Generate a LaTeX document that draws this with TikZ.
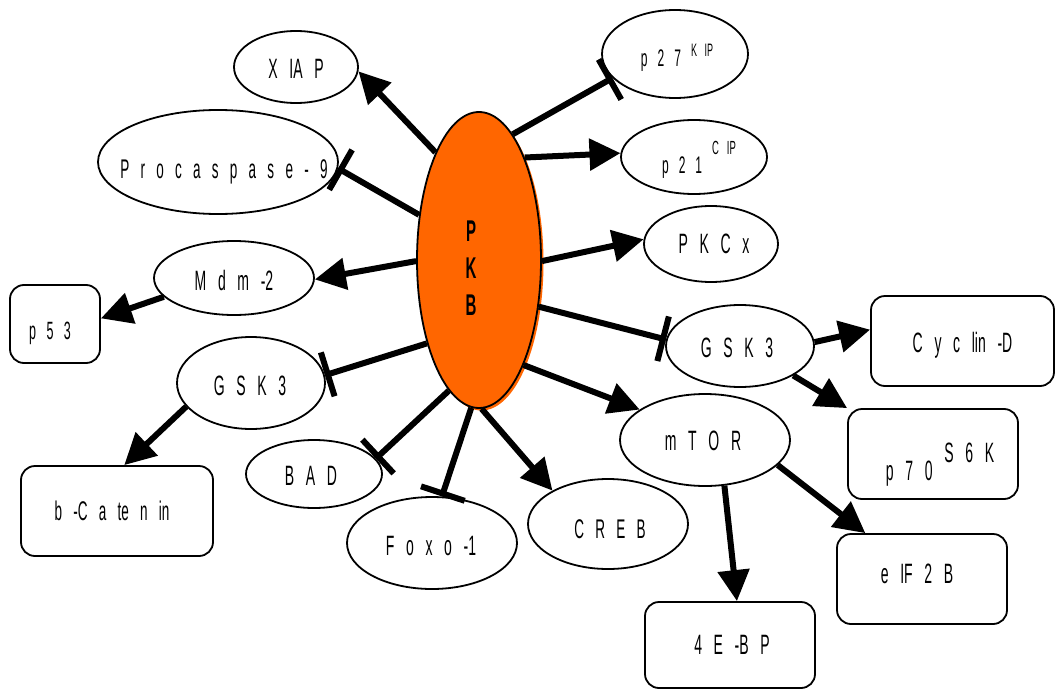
\documentclass[tikz,border=0pt]{standalone}
\usepackage{fontspec}
\setmainfont{Liberation Sans}[FakeStretch=0.5, WordSpace=3]
\usetikzlibrary{arrows.meta,shapes.geometric}
% text placed at offset (dx,dy) px from node centre (dy downwards), zero size
\newcommand{\tx}[3]{\makebox[0pt]{\hspace*{#1pt}\hspace*{#1pt}\raisebox{\dimexpr -10pt - #2pt\relax}[0pt][0pt]{#3}}}
\newcommand{\up}[2]{\raisebox{#1pt}{#2}}
\tikzset{
  ell/.style={ellipse, draw, line width=1.8pt, inner sep=0pt, fill=white},
  rbox/.style={rectangle, rounded corners=14pt, draw, line width=1.8pt, inner sep=0pt, fill=white},
  act/.style={line width=6pt, -{Triangle[length=31pt,width=31pt]}},
  inh/.style={line width=6pt, -{Bar[width=46pt]}},
  lbl/.style={font=\fontsize{28}{30}\selectfont},
}
\begin{document}
\begin{tikzpicture}[x=1pt,y=-1pt]
\useasboundingbox (0,0) rectangle (1056,690);
\fill[white] (0,0) rectangle (1056,690);
% PKB
\fill[fill={rgb,255:red,255;green,102;blue,0}] (481.5,262.5) ellipse [x radius=62pt, y radius=148pt];
\node[ell, fill={rgb,255:red,255;green,102;blue,0}, minimum width=124pt, minimum height=296pt, font=\fontsize{30}{32}\bfseries\selectfont] (pkb) at (479,260)
  {\makebox[0pt]{\hspace*{-16pt}\raisebox{19pt}[0pt][0pt]{P}}\makebox[0pt]{\hspace*{-16pt}\raisebox{-18pt}[0pt][0pt]{K}}\makebox[0pt]{\hspace*{-16pt}\raisebox{-55pt}[0pt][0pt]{B}}};
% targets
\node[ell, lbl, minimum width=124pt, minimum height=72pt] (xiap) at (296,67) {\tx{0}{2}{X IA P}};
\node[ell, minimum width=146pt, minimum height=88pt, font=\fontsize{24}{26}\selectfont] (p27) at (675,54) {\tx{2}{3}{p 2 7 \up{10}{\fontsize{18}{20}\selectfont K IP}}};
\node[ell, minimum width=240pt, minimum height=104pt, font=\fontsize{27}{29}\selectfont] (proc) at (218,162) {\tx{6}{6}{P r o c a s p a s e - 9}};
\node[ell, minimum width=146pt, minimum height=74pt, font=\fontsize{24}{26}\selectfont] (p21) at (694,157) {\tx{5}{6}{p 2 1 \up{18}{\fontsize{19}{20}\selectfont C IP}}};
\node[ell, lbl, minimum width=134pt, minimum height=76pt] (pkcx) at (711,244) {\tx{3}{-1}{P K C x}};
\node[ell, lbl, minimum width=160pt, minimum height=74pt] (mdm) at (234,278) {\tx{0}{2}{M d m -2}};
\node[rbox, minimum width=90pt, minimum height=78pt, font=\fontsize{25}{27}\selectfont] (p53) at (55,324) {\tx{-5}{5}{p 5 3}};
\node[ell, lbl, minimum width=148pt, minimum height=92pt] (gsk3l) at (251,383) {\tx{-1}{2}{G S K 3}};
\node[rbox, minimum width=192pt, minimum height=90pt, font=\fontsize{27}{29}\selectfont] (bcat) at (117,511) {\tx{-5}{-1}{b -C a te n in}};
\node[ell, lbl, minimum width=136pt, minimum height=68pt] (bad) at (314,474) {\tx{-3}{1}{B A D}};
\node[ell, lbl, minimum width=170pt, minimum height=92pt] (foxo) at (432,543) {\tx{-1}{2}{F o x o -1}};
\node[ell, minimum width=160pt, minimum height=90pt, font=\fontsize{27}{29}\selectfont] (creb) at (608,524) {\tx{2}{4}{C R E B}};
\node[ell, lbl, minimum width=170pt, minimum height=92pt] (mtor) at (705,440) {\tx{-2}{0}{m T O R}};
\node[ell, lbl, minimum width=148pt, minimum height=82pt] (gsk3r) at (740,346) {\tx{-3}{1}{G S K 3}};
\node[rbox, lbl, minimum width=183pt, minimum height=90pt] (cycd) at (962.5,341) {\tx{0}{1}{C y c lin -D}};
\node[rbox, lbl, minimum width=170pt, minimum height=90pt] (p70) at (933,454) {\tx{7}{16}{p 7 0 \up{18}{S 6 K}}};
\node[rbox, lbl, minimum width=170pt, minimum height=90pt] (eif) at (922,579) {\tx{-5}{-6}{e IF 2 B}};
\node[rbox, lbl, minimum width=170pt, minimum height=86pt] (ebp) at (730,645) {\tx{2}{-1}{4 E -B P}};
% connectors from PKB
\draw[act] (pkb.112.2) -- (xiap.-4.8);
\draw[inh] (pkb.75.9) -- (p27.201.6);
\draw[act] (pkb.66.6) -- (p21.177.6);
\draw[inh] (pkb.143.6) -- (proc.-3.8);
\draw[act] (pkb.-1.8) -- (pkcx.176);
\draw[act] (pkb.181.8) -- (mdm.-1.4);
\draw[inh] (pkb.238.1) -- (gsk3l.6);
\draw[inh] (pkb.257.9) -- (bad.14);
\draw[inh] (pkb.267.3) -- (foxo.78);
\draw[act] (pkb.271.5) -- (creb.149.5);
\draw[act] (pkb.-67) -- (mtor.155);
\draw[inh] (pkb.-38) -- (gsk3r.175);
% secondary
\draw[act] (mdm.195) -- (p53.7);
\draw[act] (gsk3l.200.8) -- (bcat.81.5);
\draw[act] (gsk3r.3.8) -- (cycd.173.3);
\draw[act] (gsk3r.-29.5) -- (p70.north west);
\draw[act] (mtor.-67.4) -- (ebp.81);
\draw[act] (mtor.-19.6) -- (eif.141.9);
\end{tikzpicture}
\end{document}
